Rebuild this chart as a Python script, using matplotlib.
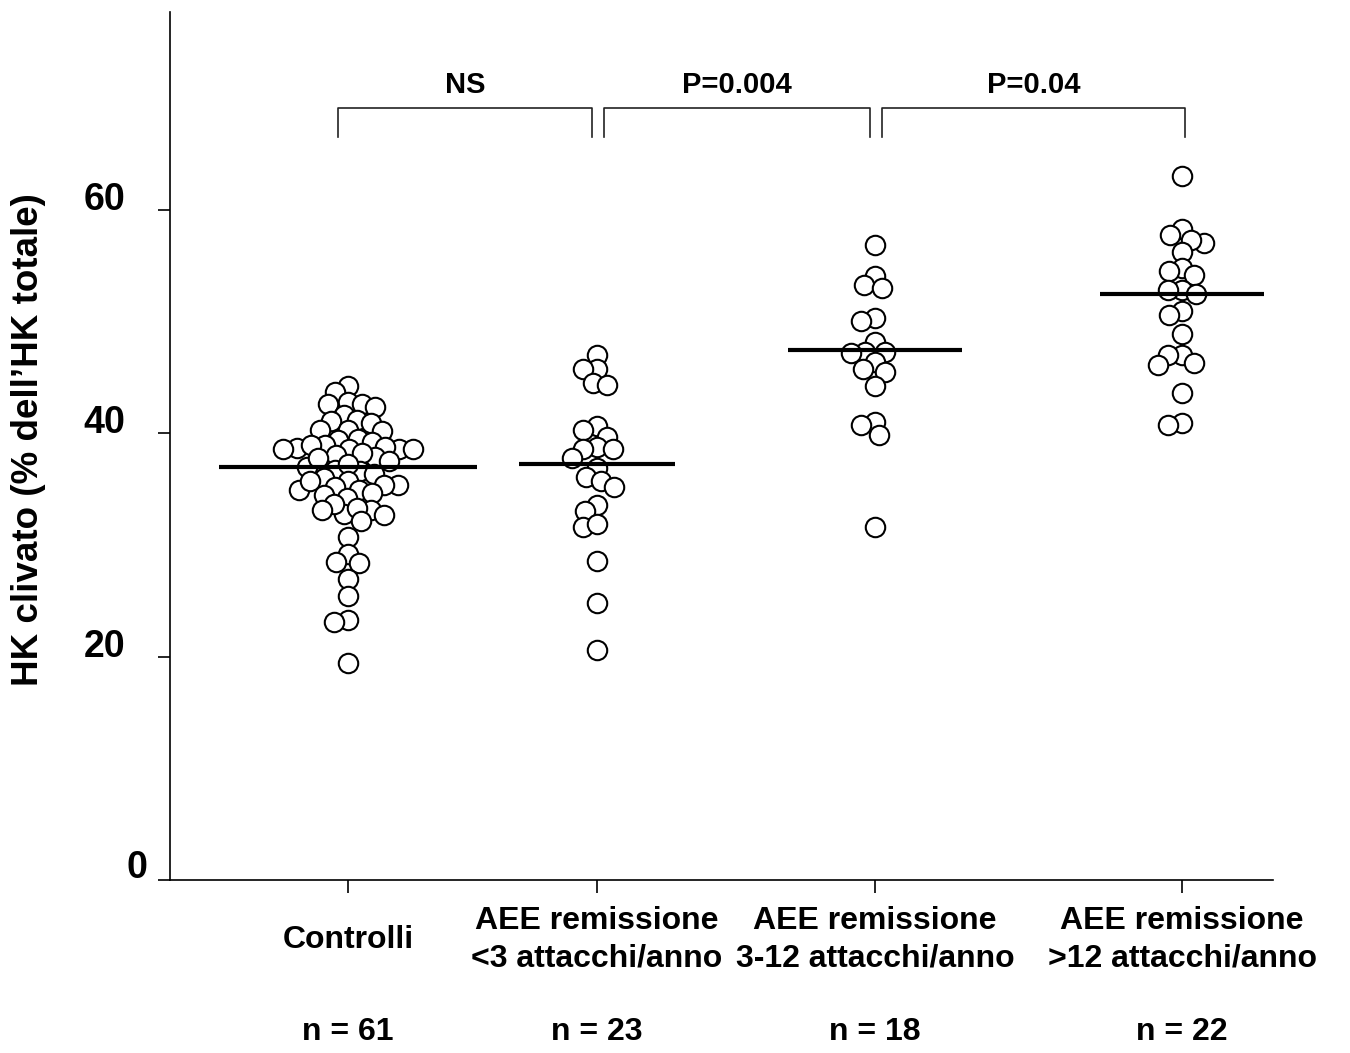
import numpy as np
import matplotlib
matplotlib.use("Agg")
import matplotlib.pyplot as plt
from matplotlib.transforms import ScaledTranslation

plt.rcParams['font.family'] = ['Liberation Sans', 'DejaVu Sans']
plt.rcParams['font.weight'] = 'bold'

# ---------------- data ----------------
categories = ["Controlli",
              "AEE remissione\n<3 attacchi/anno",
              "AEE remissione\n3-12 attacchi/anno",
              "AEE remissione\n>12 attacchi/anno"]
n_labels = ["n = 61", "n = 23", "n = 18", "n = 22"]

controlli = [44.2, 43.7, 42.8, 42.6, 42.6, 42.3, 41.6, 41.1, 41.2, 40.9,
             40.3, 40.3, 40.2, 39.5, 39.2, 39.4, 38.6, 38.6, 38.9, 38.8,
             38.7, 38.6, 38.9, 38.6, 37.9, 38.2, 38.0, 37.5, 36.7, 37.0,
             36.6, 36.3, 37.2, 35.7, 36.0, 34.9, 35.4, 35.2, 35.7, 35.4,
             34.9, 34.2, 34.5, 34.6, 32.8, 33.1, 33.7, 33.3, 33.1, 32.7,
             32.1, 30.7, 29.2, 28.5, 28.4, 26.9, 25.4, 23.3, 23.1, 19.4,
             37.8]
lt3 = [47.0, 45.7, 45.7, 44.5, 44.3, 40.6, 40.3, 39.7, 38.8, 38.6,
       38.6, 37.8, 36.9, 36.1, 35.7, 35.2, 33.6, 33.0, 31.6, 31.9,
       28.6, 24.8, 20.6]
r3_12 = [56.8, 54.1, 53.3, 53.0, 50.3, 50.0, 48.2, 47.3, 47.3, 47.2,
         46.4, 45.7, 45.5, 44.2, 41.0, 40.7, 39.8, 31.6]
gt12 = [63.0, 58.3, 57.7, 57.0, 57.3, 56.2, 54.8, 54.5, 54.2, 52.8,
        52.8, 52.5, 50.9, 50.6, 48.9, 47.0, 47.0, 46.1, 46.3, 43.6,
        40.9, 40.7]
groups = [controlli, lt3, r3_12, gt12]
group_means = [37.0, 37.2, 47.4, 52.5]

comparisons = [(0, 1, "NS"), (1, 2, "P=0.004"), (2, 3, "P=0.04")]

yticks = [0, 20, 40, 60]

# ---------------- layout ----------------
positions = [1.0, 2.0, 3.116, 4.35]
mean_halfwidth = [0.52, 0.315, 0.35, 0.33]

W, H, DPI = 1350, 1053, 100
fig = plt.figure(figsize=(W / DPI, H / DPI), dpi=DPI)
ax = fig.add_axes([170 / W, 1 - 880 / H, (1273 - 170) / W, (880 - 12) / H])
ax.set_xlim(0.285, 4.715)
ax.set_ylim(0, 77.7)

# pixel scales
px_x = ax.transData.transform((1, 0))[0] - ax.transData.transform((0, 0))[0]
px_y = ax.transData.transform((0, 1))[1] - ax.transData.transform((0, 0))[1]


def swarm_offsets(values, dmin):
    ys = np.asarray(values, float) * px_y
    order = np.argsort(-ys)
    placed = []
    xs = np.zeros(len(ys))
    for idx in order:
        y = ys[idx]
        intervals = []
        for (px, py) in placed:
            dy = abs(py - y)
            if dy < dmin:
                w = np.sqrt(dmin ** 2 - dy ** 2)
                intervals.append((px - w, px + w))
        cands = [0.0] + [a for a, b in intervals] + [b for a, b in intervals]
        cands.sort(key=lambda c: (abs(c), c))
        chosen = 0.0
        for c in cands:
            if all(not (a + 1e-6 < c < b - 1e-6) for a, b in intervals):
                chosen = c
                break
        xs[idx] = chosen
        placed.append((chosen, y))
    return xs / px_x


for i, vals in enumerate(groups):
    off = swarm_offsets(vals, 14.0)
    ax.scatter(positions[i] + off, vals, s=14.0 ** 2, facecolors='white',
               edgecolors='black', linewidths=1.5, zorder=3)
    ax.plot([positions[i] - mean_halfwidth[i], positions[i] + mean_halfwidth[i]],
            [group_means[i]] * 2, color='black', lw=3.0, zorder=4,
            solid_capstyle='butt')

# spines & ticks
for s in ['top', 'right']:
    ax.spines[s].set_visible(False)
for s in ['left', 'bottom']:
    ax.spines[s].set_linewidth(1.2)
ax.set_xticks(positions)
ax.set_xticklabels([])
ax.set_yticks(yticks)
ax.set_yticklabels([])
ax.tick_params(axis='both', direction='out', length=9, width=1.2)

# y tick labels (manual, offset upward like the original)
ytr = ax.get_yaxis_transform()
for v in yticks:
    dx = -0.23 if v == 0 else -0.45
    dy = 0.12 if v == 0 else 0.10
    ax.text(0, v, str(v), transform=ytr + ScaledTranslation(dx, dy, fig.dpi_scale_trans),
            ha='right', va='center', fontsize=27, fontweight='bold')

ax.set_ylabel("HK clivato (% dell\u2019HK totale)", fontsize=26.5, fontweight='bold',
              labelpad=0)
ax.yaxis.set_label_coords(-0.112, 0.507)

# category labels
xtr = ax.get_xaxis_transform()
for i, lab in enumerate(categories):
    ax.text(positions[i], -0.069, lab, transform=xtr, ha='center', va='center',
            fontsize=23, fontweight='bold', linespacing=1.32)
    ax.text(positions[i], -0.175, n_labels[i], transform=xtr, ha='center',
            va='center', fontsize=23, fontweight='bold')

# significance brackets
y_top, y_bot, y_txt = 69.1, 66.5, 71.2
for (i, j, lab) in comparisons:
    left = positions[i] - 0.04 if i == 0 else positions[i] + 0.03
    right = positions[j] + 0.01 if j == len(positions) - 1 else positions[j] - 0.02
    ax.plot([left, left, right, right], [y_bot, y_top, y_top, y_bot],
            color='#222222', lw=1.2, clip_on=False)
    ax.text((left + right) / 2, y_txt, lab, ha='center', va='center',
            fontsize=21, fontweight='bold')

fig.savefig("out.png", dpi=DPI)
